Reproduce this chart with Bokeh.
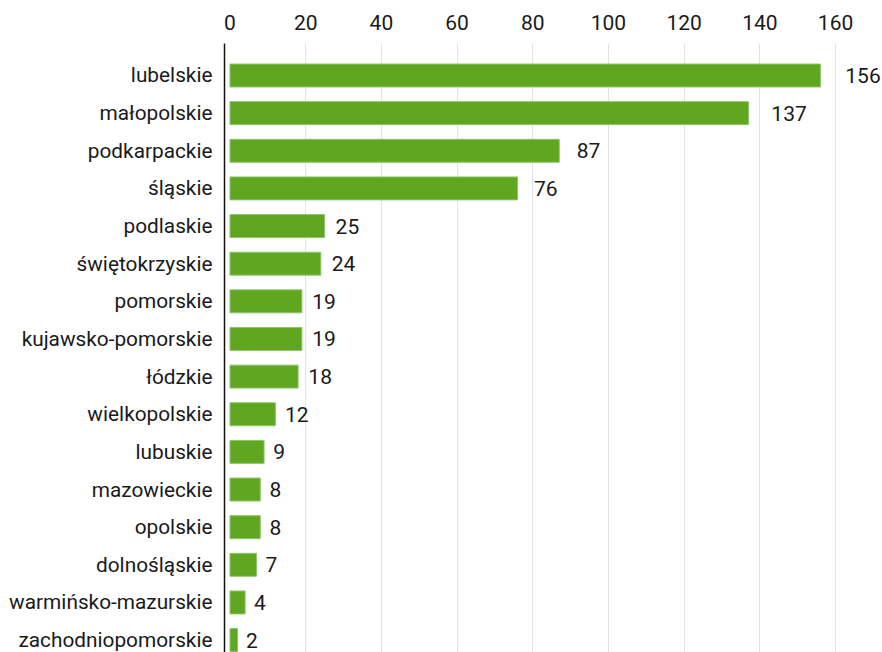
from bokeh.plotting import figure
from bokeh.models import Range1d, FixedTicker, ColumnDataSource
from bokeh.embed import file_html
from bokeh.resources import INLINE
from bokeh.core.properties import value

regions = ["lubelskie", "małopolskie", "podkarpackie", "śląskie", "podlaskie",
           "świętokrzyskie", "pomorskie", "kujawsko-pomorskie", "łódzkie",
           "wielkopolskie", "lubuskie", "mazowieckie", "opolskie", "dolnośląskie",
           "warmińsko-mazurskie", "zachodniopomorskie"]
counts = [156, 137, 87, 76, 25, 24, 19, 19, 18, 12, 9, 8, 8, 7, 4, 2]
x_ticks = [0, 20, 40, 60, 80, 100, 120, 140, 160]

FONT = "Roboto"
pos = list(range(len(regions)))
src = ColumnDataSource(dict(
    y=pos, v=counts, label=[str(c) for c in counts],
    lx=[c * 1.028 + 2.2 for c in counts],
))

p = figure(width=882, height=652, output_backend="svg", toolbar_location=None,
           x_axis_location="above",
           x_range=Range1d(-1.45, 172.4), y_range=Range1d(15.33, -0.85),
           min_border_left=224, min_border_right=0, min_border_top=43,
           min_border_bottom=0)
p.outline_line_color = None
p.background_fill_color = "white"

p.hbar(y="y", left=0, right="v", height=0.61, source=src,
       fill_color="#5fa720", line_color="#8fc46a", line_width=1)
p.text(x="lx", y="y", text="label", source=src, text_align="left",
       text_baseline="middle", text_font=value(FONT), text_font_size="21px",
       text_color="#1a1a1a")

# x axis (top)
xa = p.xaxis[0]
xa.ticker = FixedTicker(ticks=x_ticks)
xa.axis_line_color = None
xa.major_tick_line_color = None
xa.minor_tick_line_color = None
xa.major_label_text_font = FONT
xa.major_label_text_font_size = "21px"
xa.major_label_text_color = "#1a1a1a"
xa.major_label_standoff = 8

# y axis (left)
ya = p.yaxis[0]
ya.ticker = FixedTicker(ticks=pos)
ya.major_label_overrides = {i: r for i, r in zip(pos, regions)}
ya.axis_line_color = "#111111"
ya.axis_line_width = 1.5
ya.major_tick_line_color = None
ya.minor_tick_line_color = None
ya.major_tick_out = 0
ya.major_tick_in = 0
ya.major_label_text_font = FONT
ya.major_label_text_font_size = "20.8px"
ya.major_label_text_color = "#1a1a1a"
ya.major_label_standoff = 12

p.ygrid.grid_line_color = None
p.xgrid.ticker = FixedTicker(ticks=x_ticks[1:])
p.xgrid.grid_line_color = "#e3e3e3"
p.xgrid.grid_line_width = 1

open("out.html", "w").write(file_html(p, INLINE))
